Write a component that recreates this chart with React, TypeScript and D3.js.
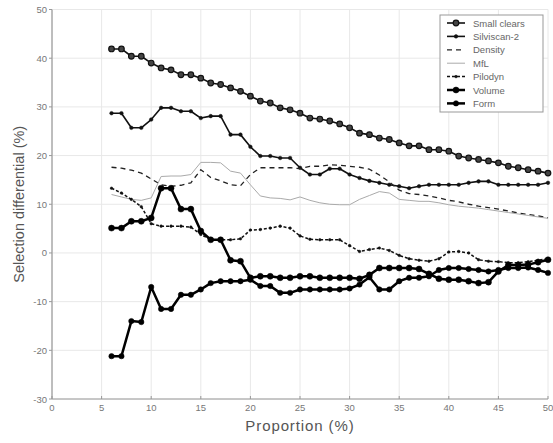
import React from "react";
import * as d3 from "d3";

const proportions = d3.range(6, 51);
const smallClears = [41.9, 41.9, 40.4, 40.4, 39.0, 38.0, 37.6, 36.6, 36.6, 35.9, 34.9, 34.6, 33.9, 33.2, 32.2, 31.2, 30.8, 29.8, 29.4, 28.7, 27.7, 27.5, 27.1, 26.5, 25.7, 24.6, 24.3, 23.6, 23.3, 22.6, 22.0, 22.0, 21.2, 21.2, 20.9, 19.9, 19.5, 19.2, 18.9, 18.5, 17.8, 17.5, 17.1, 16.8, 16.4];
const silviscan = [28.7, 28.7, 25.7, 25.7, 27.4, 29.8, 29.8, 29.1, 29.1, 27.7, 28.1, 28.1, 24.3, 24.3, 21.8, 19.9, 19.9, 19.5, 19.5, 17.5, 16.1, 16.1, 17.3, 17.3, 16.1, 15.4, 14.8, 14.4, 14.0, 13.7, 13.3, 13.7, 14.0, 14.0, 14.0, 14.0, 14.4, 14.7, 14.7, 14.0, 14.0, 14.0, 14.0, 14.0, 14.4];
const density = [17.6, 17.4, 17.0, 16.4, 15.2, 14.0, 13.7, 13.9, 14.4, 17.1, 15.5, 14.8, 14.0, 13.8, 16.1, 17.5, 17.5, 17.5, 17.5, 17.3, 17.8, 17.8, 18.1, 18.0, 17.8, 17.6, 17.2, 16.0, 14.6, 12.9, 12.2, 12.0, 11.7, 11.3, 10.8, 10.5, 10.0, 9.6, 9.3, 9.0, 8.6, 8.2, 7.9, 7.6, 7.2];
const mfl = [12.0, 11.5, 11.0, 10.8, 11.3, 15.7, 15.8, 15.8, 16.1, 18.6, 18.6, 18.5, 16.8, 16.4, 14.0, 11.7, 11.3, 11.2, 10.9, 11.5, 10.8, 10.3, 10.0, 9.9, 9.9, 11.0, 11.8, 12.6, 12.3, 11.0, 10.8, 10.6, 10.6, 10.3, 9.9, 9.6, 9.4, 9.2, 8.9, 8.6, 8.3, 8.0, 7.7, 7.4, 7.1];
const pilodyn = [13.3, 12.3, 11.0, 9.5, 6.0, 5.5, 5.5, 5.5, 5.3, 3.8, 2.7, 2.7, 2.7, 2.9, 4.7, 4.8, 5.1, 5.5, 5.1, 3.5, 2.8, 2.7, 2.7, 2.7, 1.5, 0.3, 0.7, 1.0, 0.5, -0.5, -1.2, -1.5, -1.7, -1.2, 0.2, 0.3, 0.0, -1.4, -1.7, -1.8, -2.0, -2.0, -1.8, -1.5, -1.2];
const volume = [5.1, 5.1, 6.5, 6.5, 7.2, 13.3, 13.3, 9.0, 9.0, 4.5, 2.7, 2.7, -1.5, -1.7, -5.1, -4.8, -4.8, -5.1, -5.1, -4.8, -4.8, -5.1, -5.1, -5.1, -5.1, -5.3, -4.5, -3.1, -3.1, -3.1, -3.1, -3.3, -4.3, -5.3, -5.5, -5.5, -5.8, -6.2, -6.0, -3.8, -2.5, -2.5, -2.4, -1.9, -1.4];
const form = [-21.2, -21.2, -14.0, -14.2, -7.0, -11.5, -11.5, -8.6, -8.6, -7.5, -6.2, -5.8, -5.8, -5.8, -5.5, -6.8, -6.8, -8.2, -8.2, -7.5, -7.5, -7.5, -7.5, -7.5, -7.3, -6.5, -5.0, -7.5, -7.5, -5.8, -5.1, -5.1, -4.8, -3.5, -3.1, -3.1, -3.3, -3.5, -3.8, -3.5, -3.1, -3.1, -3.0, -3.5, -4.1];

const seriesNames = ["Small clears", "Silviscan-2", "Density", "MfL", "Pilodyn", "Volume", "Form"];
const seriesValues = [smallClears, silviscan, density, mfl, pilodyn, volume, form];
const xTicks = [0, 5, 10, 15, 20, 25, 30, 35, 40, 45, 50];
const yTicks = [-30, -20, -10, 0, 10, 20, 30, 40, 50];

type Style = { stroke: string; width: number; dash?: string; marker: number; fill?: string };
const styles: Style[] = [
  { stroke: "#111", width: 1.6, marker: 2.8, fill: "#444" },
  { stroke: "#111", width: 1.6, marker: 1.8, fill: "#111" },
  { stroke: "#222", width: 1.3, dash: "5,4", marker: 0 },
  { stroke: "#aaa", width: 1, marker: 0 },
  { stroke: "#111", width: 1.5, dash: "3,2", marker: 1.3, fill: "#111" },
  { stroke: "#000", width: 2.5, marker: 3.0, fill: "#000" },
  { stroke: "#000", width: 2.5, marker: 2.7, fill: "#000" },
];

const W = 553, H = 443;
const L = 52, R = 548, T = 9.5, B = 399;

export default function App() {
  const x = d3.scaleLinear().domain([0, 50]).range([L, R]);
  const y = d3.scaleLinear().domain([-30, 50]).range([B, T]);
  const line = d3.line<number>().x((_, i) => x(proportions[i])).y((d) => y(d));
  const font = "Liberation Sans, Arial, sans-serif";
  const legX = 440, legY = 15;
  return (
    <svg width={W} height={H} style={{ position: "absolute", left: 0, top: 0, background: "#fff" }}>
      <rect x={0} y={0} width={W} height={H} fill="#fff" />
      {xTicks.map((t) => (
        <line key={"gx" + t} x1={x(t)} x2={x(t)} y1={T} y2={B} stroke="#e8e8e8" strokeWidth={1} />
      ))}
      {yTicks.map((t) => (
        <line key={"gy" + t} x1={L} x2={R} y1={y(t)} y2={y(t)} stroke="#e8e8e8" strokeWidth={1} />
      ))}
      <line x1={L} x2={L} y1={T} y2={B} stroke="#999" strokeWidth={1.2} />
      <line x1={L} x2={R} y1={B} y2={B} stroke="#999" strokeWidth={1.2} />
      {yTicks.map((t) => (
        <g key={"ty" + t}>
          <line x1={L - 3} x2={L} y1={y(t)} y2={y(t)} stroke="#999" />
          <text x={L - 5} y={y(t) + 3.5} textAnchor="end" fontSize={9.5} fill="#777" fontFamily={font}>{t}</text>
        </g>
      ))}
      {xTicks.map((t) => (
        <g key={"tx" + t}>
          <line x1={x(t)} x2={x(t)} y1={B} y2={B - 3} stroke="#999" />
          <text x={x(t)} y={B + 12} textAnchor="middle" fontSize={9.5} fill="#777" fontFamily={font}>{t}</text>
        </g>
      ))}
      <text x={300} y={431} textAnchor="middle" fontSize={15} letterSpacing={0.9} fill="#555" fontFamily={font}>Proportion (%)</text>
      <text transform={`translate(24,${(T + B) / 2}) rotate(-90)`} textAnchor="middle" fontSize={14.5} fill="#555" fontFamily={font}>Selection differential (%)</text>
      {seriesValues.map((vals, si) => {
        const s = styles[si];
        return (
          <g key={seriesNames[si]}>
            <path d={line(vals) || ""} fill="none" stroke={s.stroke} strokeWidth={s.width} strokeDasharray={s.dash} strokeLinejoin="round" />
            {s.marker > 0 && vals.map((v, i) => (
              <circle key={i} cx={x(proportions[i])} cy={y(v)} r={s.marker} fill={s.fill} stroke={s.stroke} strokeWidth={si === 0 ? 1.2 : 0.5} />
            ))}
          </g>
        );
      })}
      <rect x={legX} y={legY} width={103} height={97} fill="#fff" stroke="#999" strokeWidth={1} />
      {seriesNames.map((n, i) => {
        const s = styles[i];
        const ly = legY + 8 + i * 13.4;
        return (
          <g key={"leg" + n}>
            <line x1={legX + 7} x2={legX + 25} y1={ly} y2={ly} stroke={s.stroke} strokeWidth={s.width} strokeDasharray={s.dash} />
            {s.marker > 0 && <circle cx={legX + 16} cy={ly} r={s.marker} fill={s.fill} stroke={s.stroke} strokeWidth={i === 0 ? 1.2 : 0.5} />}
            <text x={legX + 33} y={ly + 3.5} fontSize={9.5} fill="#666" fontFamily={font}>{n}</text>
          </g>
        );
      })}
    </svg>
  );
}
